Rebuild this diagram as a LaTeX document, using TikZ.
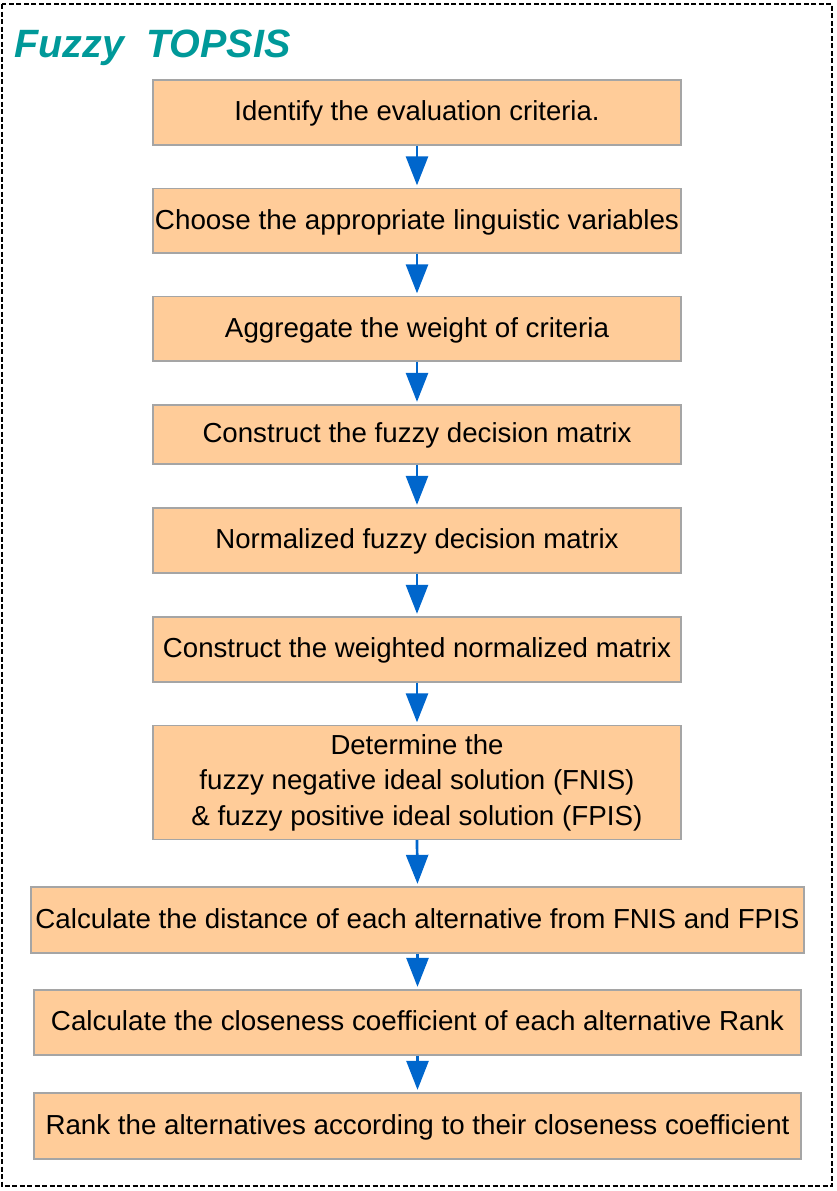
\documentclass[tikz,border=0pt]{standalone}
\usepackage{fontspec}
\setmainfont{Liberation Sans}
\usepackage{graphicx}
\usetikzlibrary{arrows.meta}
\definecolor{boxfill}{RGB}{255,204,153}
\definecolor{boxline}{RGB}{165,165,165}
\definecolor{arrowblue}{RGB}{0,102,204}
\definecolor{titleteal}{RGB}{0,153,153}
\newcommand{\fw}[2]{\resizebox{#1pt}{\height}{#2}}
\tikzset{
  stepbox/.style={draw=boxline, line width=1.3pt, fill=boxfill, inner sep=0pt,
    font=\fontsize{27.5}{35.5}\selectfont, text=black},
  oneline/.style={text height=19.7pt, text depth=3pt},
  flow/.style={draw=arrowblue, line width=2.7pt,
    -{Triangle[length=29pt,width=22pt]}, shorten >=2.5pt},
}
\begin{document}
\begin{tikzpicture}[x=1pt,y=-1pt]
\useasboundingbox (0,0) rectangle (837,1191);
\draw[black, line width=1.2pt, dash pattern=on 5pt off 2.5pt] (2,4) rectangle (832,1186);
\node[anchor=base west, text=titleteal, font=\fontsize{39.5}{42}\selectfont\bfseries\itshape] (title) at (11,57.3) {Fuzzy\ \ TOPSIS};

\node[stepbox, oneline, minimum width=528pt, minimum height=65pt] (b1) at (417,112.5) {\fw{365}{Identify the evaluation criteria.}};
\node[stepbox, oneline, minimum width=528pt, minimum height=64.5pt] (b2) at (417,220.75) {\fw{524}{Choose the appropriate linguistic variables}};
\node[stepbox, oneline, minimum width=528pt, minimum height=64.5pt] (b3) at (417,328.75) {\fw{384}{Aggregate the weight of criteria}};
\node[stepbox, oneline, minimum width=528pt, minimum height=59pt] (b4) at (417,434.5) {\fw{429}{Construct the fuzzy decision matrix}};
\node[stepbox, oneline, minimum width=528pt, minimum height=65pt] (b5) at (417,540.5) {\fw{403}{Normalized fuzzy decision matrix}};
\node[stepbox, oneline, minimum width=528pt, minimum height=65pt] (b6) at (417,649.5) {\fw{508}{Construct the weighted normalized matrix}};
\node[stepbox, minimum width=528pt, minimum height=114pt, align=center] (b7) at (417,782.5) {\fw{173}{Determine the}\\ \fw{435}{fuzzy negative ideal solution (FNIS)}\\ \fw{451}{\& fuzzy positive ideal solution (FPIS)}};
\node[stepbox, oneline, minimum width=773pt, minimum height=66pt] (b8) at (417.5,920) {\fw{764}{Calculate the distance of each alternative from FNIS and FPIS}};
\node[stepbox, oneline, minimum width=767pt, minimum height=65pt] (b9) at (417.5,1022.5) {\fw{733}{Calculate the closeness coefficient of each alternative Rank}};
\node[stepbox, oneline, minimum width=767pt, minimum height=66pt] (b10) at (417.5,1126) {\fw{744}{Rank the alternatives according to their closeness coefficient}};

\foreach \a/\b in {b1/b2,b2/b3,b3/b4,b4/b5,b5/b6,b6/b7,b7/b8,b8/b9,b9/b10}
  \draw[flow] (\a.south) -- (\b.north);
\end{tikzpicture}
\end{document}
